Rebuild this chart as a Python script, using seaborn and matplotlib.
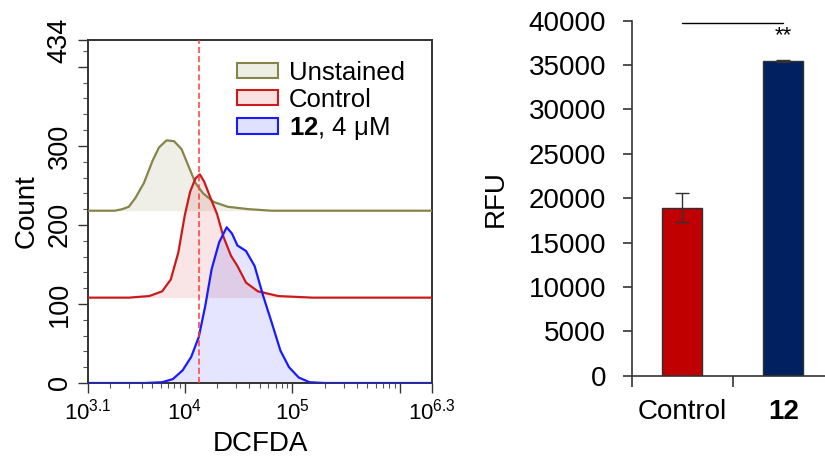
import numpy as np
import pandas as pd
import matplotlib
matplotlib.use('Agg')
import matplotlib.pyplot as plt
import matplotlib.ticker as mticker
from matplotlib.patches import Patch
import seaborn as sns

# flow histograms: x = log10(DCFDA), y = count above the trace's own baseline
unst_log = [3.10, 3.35, 3.42, 3.48, 3.54, 3.62, 3.70, 3.76, 3.83, 3.90, 3.97, 4.03, 4.10, 4.17, 4.27, 4.40, 4.59, 4.81, 6.30]
unst_cnt = [0, 0, 2, 5, 16, 35, 63, 80, 89, 88, 78, 58, 35, 22, 11, 5, 2, 0, 0]
ctrl_log = [3.10, 3.48, 3.67, 3.79, 3.87, 3.94, 4.00, 4.05, 4.10, 4.14, 4.18, 4.24, 4.30, 4.36, 4.43, 4.49, 4.57, 4.68, 4.87, 5.19, 6.30]
ctrl_cnt = [0, 0, 2, 8, 23, 57, 104, 134, 151, 156, 147, 126, 106, 77, 53, 40, 19, 8, 2, 0, 0]
cpd_log = [3.10, 3.63, 3.79, 3.89, 3.98, 4.06, 4.13, 4.19, 4.25, 4.32, 4.39, 4.44, 4.49, 4.57, 4.65, 4.73, 4.81, 4.89, 4.97, 5.06, 5.16, 5.30, 6.30]
cpd_cnt = [0, 0, 1, 5, 16, 33, 58, 97, 144, 178, 197, 189, 174, 167, 148, 110, 76, 41, 20, 7, 1, 0, 0]
trace_names = ['Unstained', 'Control', r'$\mathbf{12}$, 4 μM']
trace_offsets = [218, 108, 0]
gate_log = 4.136

# RFU bar chart
groups = ['Control', '12']
rfu = [18950, 35450]
rfu_err = [1600, 150]

sns.set_style('white')
plt.rcParams['font.family'] = ['Liberation Sans', 'DejaVu Sans']
plt.rcParams['mathtext.fontset'] = 'custom'
plt.rcParams['mathtext.rm'] = 'Liberation Sans'
plt.rcParams['mathtext.it'] = 'Liberation Sans:italic'
plt.rcParams['mathtext.bf'] = 'Liberation Sans:bold'
for k in ['text.color', 'axes.labelcolor', 'xtick.color', 'ytick.color']:
    plt.rcParams[k] = 'black'

line_cols = ['#85854a', '#cc1a1a', '#1a1aff']
fill_cols = ['#808040', '#cc0000', '#0000ff']
fill_alpha = [0.12, 0.10, 0.10]

fig = plt.figure(figsize=(8.25, 4.59), dpi=100)

# ---- left: histogram overlay
ax = fig.add_axes([88/825, 76/459, 344/825, 343/459])
traces = [(unst_log, unst_cnt), (ctrl_log, ctrl_cnt), (cpd_log, cpd_cnt)]
for i, (lx, cnt) in enumerate(traces):
    x = 10 ** np.array(lx)
    y = np.array(cnt) + trace_offsets[i]
    ax.fill_between(x, trace_offsets[i], y, color=fill_cols[i], alpha=fill_alpha[i], lw=0, zorder=1)
for i, (lx, cnt) in enumerate(traces):
    df = pd.DataFrame({'x': 10 ** np.array(lx), 'y': np.array(cnt) + trace_offsets[i]})
    sns.lineplot(data=df, x='x', y='y', ax=ax, color=line_cols[i], lw=1.6,
                 estimator=None, sort=False, zorder=3 + i)
ax.axvline(10 ** gate_log, color='#ff3b3b', lw=1.1, dashes=(4, 2), zorder=6)

ax.set_xscale('log')
ax.set_xlim(10 ** 3.1, 10 ** 6.3)
ax.set_ylim(0, 434)
ax.set_xticks([10 ** 3.1, 1e4, 1e5, 1e6, 10 ** 6.3])
ax.set_xticklabels([r'$10^{3.1}$', r'$10^{4}$', r'$10^{5}$', '', r'$10^{6.3}$'], fontsize=16)
ax.xaxis.set_minor_locator(mticker.LogLocator(base=10, subs=np.arange(2, 10)))
ax.xaxis.set_minor_formatter(mticker.NullFormatter())
ax.set_yticks([0, 100, 200, 300, 400, 434])
ax.set_yticklabels(['0', '100', '200', '300', '', '434'], fontsize=19.5, rotation=90, va='center')
ax.yaxis.set_minor_locator(mticker.MultipleLocator(20))
ax.tick_params(which='major', direction='out', length=7, width=1, color='#333333', left=True, bottom=True, pad=4)
ax.tick_params(which='minor', direction='out', length=3.5, width=0.8, color='#555555', left=True, bottom=True)
for s in ax.spines.values():
    s.set_color('#333333')
    s.set_linewidth(1.4)
ax.set_xlabel('DCFDA', fontsize=20, labelpad=5)
ax.set_ylabel('Count', fontsize=20, labelpad=5)

handles = [Patch(facecolor=(fill_cols[i], fill_alpha[i] + 0.02), edgecolor=line_cols[i], lw=1.5)
           for i in range(3)]
ax.legend(handles, trace_names, loc='upper left', bbox_to_anchor=(0.432, 0.94),
          frameon=False, fontsize=18.5, handlelength=1.62, handleheight=0.57,
          handletextpad=0.42, labelspacing=0.12, borderpad=0, borderaxespad=0)

# ---- right: RFU bars
ax2 = fig.add_axes([631.7/825, 83.3/459, 193.3/825, 355/459])
sns.barplot(x=groups, y=rfu, hue=groups, palette=['#c00000', '#002060'], saturation=1, width=0.4,
            edgecolor='#303030', linewidth=1, legend=False, ax=ax2)
ax2.errorbar([0, 1], rfu, yerr=rfu_err, fmt='none', ecolor='#333333', elinewidth=1, capsize=5, capthick=1)
ax2.plot([0, 1], [39700, 39700], color='black', lw=1)
ax2.text(1, 38300, '**', ha='center', va='center', fontsize=16)
ax2.set_xlim(-0.5, 1.414)
ax2.set_ylim(0, 40000)
ax2.set_yticks(np.arange(0, 40001, 5000))
ax2.set_yticklabels([str(v) for v in range(0, 40001, 5000)], fontsize=20)
ax2.set_xticks([0, 1])
ax2.set_xticklabels(groups, fontsize=20)
ax2.get_xticklabels()[1].set_fontweight('bold')
ax2.set_xticks([-0.5, 0.5], minor=True)
ax2.tick_params(axis='x', which='major', length=0, pad=17)
ax2.tick_params(axis='x', which='minor', direction='out', length=8, width=1.2, color='#333333', bottom=True)
ax2.tick_params(axis='y', which='major', direction='out', length=6.5, width=1.2, color='#333333', left=True, pad=12)
sns.despine(ax=ax2)
for s in ['left', 'bottom']:
    ax2.spines[s].set_color('#333333')
    ax2.spines[s].set_linewidth(1.2)
ax2.set_xlabel('')
ax2.set_ylabel('RFU', fontsize=20, labelpad=14)

fig.savefig('out.png', dpi=100)
